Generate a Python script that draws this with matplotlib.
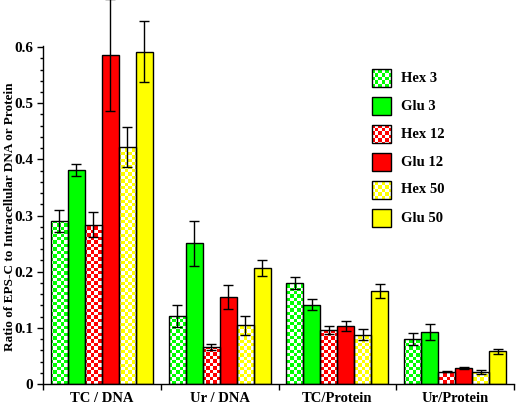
import numpy as np
import matplotlib
matplotlib.use('Agg')
import matplotlib.pyplot as plt
from matplotlib.patches import Rectangle
from matplotlib.ticker import MultipleLocator, FixedLocator, FuncFormatter

# ---------------- data ----------------
categories = ['TC / DNA', 'Ur / DNA', 'TC/Protein', 'Ur/Protein']
series = ['Hex 3', 'Glu 3', 'Hex 12', 'Glu 12', 'Hex 50', 'Glu 50']

hex3 = [0.290, 0.121, 0.180, 0.080]
hex3_err = [0.020, 0.020, 0.011, 0.010]
glu3 = [0.381, 0.251, 0.141, 0.093]
glu3_err = [0.010, 0.040, 0.010, 0.014]
hex12 = [0.284, 0.066, 0.096, 0.022]
hex12_err = [0.023, 0.005, 0.007, 0.001]
glu12 = [0.586, 0.155, 0.103, 0.028]
glu12_err = [0.100, 0.021, 0.009, 0.002]
hex50 = [0.422, 0.105, 0.088, 0.021]
hex50_err = [0.035, 0.017, 0.010, 0.004]
glu50 = [0.592, 0.207, 0.166, 0.058]
glu50_err = [0.054, 0.014, 0.012, 0.004]

values = [hex3, glu3, hex12, glu12, hex50, glu50]
errors = [hex3_err, glu3_err, hex12_err, glu12_err, hex50_err, glu50_err]

# ---------------- style ----------------
colors = ['#00ff00', '#00ff00', '#ff0000', '#ff0000', '#ffff00', '#ffff00']
checkered = [True, False, True, False, True, False]

plt.rcParams['font.family'] = ['Liberation Serif', 'DejaVu Serif']
plt.rcParams['font.weight'] = 'bold'

W, H = 516, 408
fig = plt.figure(figsize=(W / 100, H / 100), dpi=100)
ax_l, ax_r, ax_t, ax_b = 43, 514, 46, 384
ax = fig.add_axes([ax_l / W, 1 - ax_b / H, (ax_r - ax_l) / W, (ax_b - ax_t) / H])

ax.set_xlim(-0.5, len(categories) - 0.5)
ax.set_ylim(0, 0.602)

cell_px = 3.4
ncols = int(round((ax_r - ax_l) / cell_px))
nrows = int(round((ax_b - ax_t) / cell_px))


def checker_image(color):
    rgb = np.array(matplotlib.colors.to_rgb(color))
    img = np.ones((nrows, ncols, 3))
    ii, jj = np.indices((nrows, ncols))
    mask = (ii + jj) % 2 == 0
    img[mask] = rgb
    return img


def fill_checker(patch, color):
    im = ax.imshow(checker_image(color), extent=[0, 1, 0, 1], transform=ax.transAxes,
                   interpolation='nearest', aspect='auto', zorder=patch.get_zorder() + 0.05)
    im.set_clip_path(patch)
    return im


n = len(series)
bw = 0.1445
x = np.arange(len(categories))
offsets = (np.arange(n) - (n - 1) / 2) * bw

for i in range(n):
    xi = x + offsets[i]
    if checkered[i]:
        bars = ax.bar(xi, values[i], bw, color='white', edgecolor='none', zorder=2)
        for b in bars:
            fill_checker(b, colors[i])
    else:
        ax.bar(xi, values[i], bw, color=colors[i], edgecolor='none', zorder=2)
    ax.bar(xi, values[i], bw, facecolor='none', edgecolor='black', linewidth=1.0, zorder=3)
    eb = ax.errorbar(xi, values[i], yerr=errors[i], fmt='none', ecolor='black',
                     elinewidth=1.0, capsize=3.6, capthick=1.0, zorder=4)
    for art in eb.lines[1] + eb.lines[2]:
        art.set_clip_on(False)

# legend drawn by hand
for i, name in enumerate(series):
    yc = 78 + 28 * i
    bx0 = (372 - ax_l) / (ax_r - ax_l)
    bwid = 19 / (ax_r - ax_l)
    by0 = (ax_b - (yc + 9)) / (ax_b - ax_t)
    bh = 18 / (ax_b - ax_t)
    if checkered[i]:
        r = Rectangle((bx0, by0), bwid, bh, transform=ax.transAxes, facecolor='white',
                      edgecolor='none', zorder=2)
        ax.add_patch(r)
        fill_checker(r, colors[i])
    else:
        r = Rectangle((bx0, by0), bwid, bh, transform=ax.transAxes, facecolor=colors[i],
                      edgecolor='none', zorder=2)
        ax.add_patch(r)
    ax.add_patch(Rectangle((bx0, by0), bwid, bh, transform=ax.transAxes, facecolor='none',
                           edgecolor='black', linewidth=1.0, zorder=3))
    ax.text((401 - ax_l) / (ax_r - ax_l), (ax_b - yc) / (ax_b - ax_t), name,
            transform=ax.transAxes, va='center', ha='left', fontsize=10.5, fontweight='bold')

# axes styling
for s in ['top', 'right']:
    ax.spines[s].set_visible(False)
for s in ['left', 'bottom']:
    ax.spines[s].set_linewidth(1.0)
    ax.spines[s].set_color('black')

ax.xaxis.set_major_locator(FixedLocator(x))
ax.set_xticklabels(categories, fontsize=10.5, fontweight='bold')
ax.xaxis.set_minor_locator(FixedLocator(np.arange(len(categories) + 1) - 0.5))
ax.tick_params(axis='x', which='major', length=0, pad=6)
ax.tick_params(axis='x', which='minor', length=4, width=1, direction='out')

ax.yaxis.set_major_locator(MultipleLocator(0.1))
ax.yaxis.set_minor_locator(MultipleLocator(0.02))
ax.yaxis.set_major_formatter(FuncFormatter(lambda v, p: '0' if abs(v) < 1e-9 else f'{v:.1f}'))
ax.tick_params(axis='y', which='major', length=4, width=1, direction='out', labelsize=11, pad=3)
ax.tick_params(axis='y', which='minor', length=2.5, width=1, direction='out')
for lab in ax.get_yticklabels():
    lab.set_fontweight('bold')

fig.text(10 / W, 1 - 217 / H, 'Ratio of EPS-C to Intracellular DNA or Protein', rotation=90,
         ha='center', va='center', fontsize=9.5, fontweight='bold')

fig.savefig('out.png', dpi=100)
